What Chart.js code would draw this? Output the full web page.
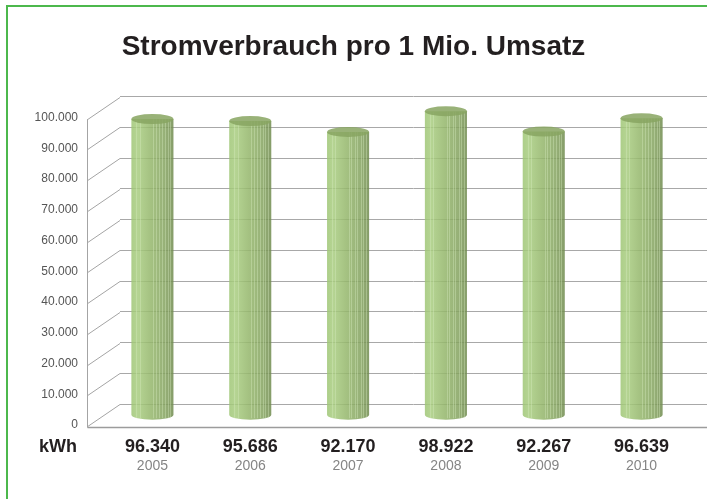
<!DOCTYPE html>
<html>
<head>
<meta charset="utf-8">
<script src="https://cdn.jsdelivr.net/npm/chart.js@4"></script>
<style>
    html, body { margin: 0; padding: 0; background: #fff; }
    .wrap { position: relative; width: 707px; height: 499px; overflow: hidden; }
    .rahmen {
        position: absolute; left: 6px; top: 5px; right: -5px; bottom: -5px;
        border-top: 2px solid #4cb84c; border-left: 2px solid #4cb84c;
        pointer-events: none;
    }
</style>
</head>
<body>
<div class="wrap">
    <canvas id="stromChart" width="707" height="499"></canvas>
    <div class="rahmen"></div>
</div>
<script>
// Daten
const jahre = ['2005', '2006', '2007', '2008', '2009', '2010'];
const verbrauch = [96340, 95686, 92170, 98922, 92267, 96639];
const einheit = 'kWh';

// Versatz für die 3D-Optik (vorne gegenüber Rückwand)
const tiefeX = -33;
const tiefeY = 22.5;

function formatDE(v) {
    return String(v).replace(/\B(?=(\d{3})+(?!\d))/g, '.');
}

// Rückwand-Diagonalen, Boden und Zylinder
const zylinderPlugin = {
    id: 'zylinder',
    beforeDatasetsDraw(chart) {
        const ctx = chart.ctx;
        const area = chart.chartArea;
        const yScale = chart.scales.y;
        ctx.save();
        ctx.strokeStyle = '#a4a4a4';
        ctx.lineWidth = 1;
        yScale.ticks.forEach(t => {
            const y = Math.round(yScale.getPixelForValue(t.value)) + 0.5;
            ctx.beginPath();
            ctx.moveTo(area.left, y);
            ctx.lineTo(area.left + tiefeX, y + tiefeY);
            ctx.stroke();
        });
        // vordere Achse und Bodenkante
        const yTop = Math.round(yScale.getPixelForValue(yScale.max) + tiefeY) + 0.5;
        const yNull = Math.round(yScale.getPixelForValue(0) + tiefeY) + 0.5;
        const xv = Math.round(area.left + tiefeX) + 0.5;
        ctx.beginPath();
        ctx.moveTo(xv, yTop);
        ctx.lineTo(xv, yNull);
        ctx.stroke();
        ctx.strokeStyle = '#9c9c9c';
        ctx.lineWidth = 1.5;
        ctx.beginPath();
        ctx.moveTo(xv, yNull);
        ctx.lineTo(chart.width, yNull);
        ctx.stroke();
        ctx.restore();
    },
    afterDatasetsDraw(chart) {
        const ctx = chart.ctx;
        const meta = chart.getDatasetMeta(0);
        ctx.save();
        ctx.globalAlpha = 0.86;
        meta.data.forEach(bar => {
            const { x, y, base, width } = bar.getProps(['x', 'y', 'base', 'width'], true);
            const cx = x + tiefeX / 2;
            const top = y + tiefeY / 2;
            const bottom = base + tiefeY / 2;
            const rx = width / 2;
            const ry = 5;
            const left = cx - rx;

            const grad = ctx.createLinearGradient(left, 0, left + width, 0);
            grad.addColorStop(0, '#9fc676');
            grad.addColorStop(0.15, '#a9cd81');
            grad.addColorStop(0.45, '#96b86d');
            grad.addColorStop(0.8, '#85a361');
            grad.addColorStop(1, '#718c50');

            ctx.fillStyle = grad;
            ctx.beginPath();
            ctx.moveTo(left, top);
            ctx.lineTo(left, bottom);
            ctx.ellipse(cx, bottom, rx, ry, 0, Math.PI, 0, true);
            ctx.lineTo(left + width, top);
            ctx.closePath();
            ctx.fill();

            // feine Streifen wie im Original
            ctx.strokeStyle = 'rgba(215, 235, 190, 0.45)';
            ctx.lineWidth = 1;
            [0.12, 0.2, 0.52, 0.58, 0.66, 0.72, 0.8, 0.86, 0.92].forEach(p => {
                const sx = Math.round(left + width * p) + 0.5;
                ctx.beginPath();
                ctx.moveTo(sx, top);
                ctx.lineTo(sx, bottom + ry * 0.7);
                ctx.stroke();
            });

            // Deckel
            ctx.fillStyle = '#88a562';
            ctx.beginPath();
            ctx.ellipse(cx, top, rx, ry, 0, 0, Math.PI * 2);
            ctx.fill();
        });
        ctx.restore();
    },
    afterDraw(chart) {
        const ctx = chart.ctx;
        const area = chart.chartArea;
        ctx.save();
        ctx.font = 'bold 18px "Liberation Sans", Arial, sans-serif';
        ctx.fillStyle = '#231f20';
        ctx.textAlign = 'right';
        ctx.textBaseline = 'middle';
        ctx.fillText(einheit, area.left + tiefeX - 10, area.bottom + 43);
        ctx.restore();
    }
};

Chart.defaults.font.family = '"Liberation Sans", Arial, sans-serif';

const ctx = document.getElementById('stromChart');
new Chart(ctx, {
    type: 'bar',
    data: {
        labels: jahre,
        datasets: [{
            label: 'Stromverbrauch',
            data: verbrauch,
            backgroundColor: 'rgba(0,0,0,0)',
            borderWidth: 0,
            categoryPercentage: 1,
            barPercentage: 0.43
        }]
    },
    options: {
        responsive: false,
        animation: false,
        layout: { padding: { left: 0, right: 0, top: 0, bottom: 0 } },
        plugins: {
            legend: { display: false },
            tooltip: { enabled: false },
            title: {
                display: true,
                text: 'Stromverbrauch pro 1 Mio. Umsatz',
                color: '#231f20',
                font: { size: 28, weight: 'bold' },
                padding: { top: 30, bottom: 33 }
            }
        },
        scales: {
            y: {
                min: 0,
                max: 100000,
                border: { display: false },
                grid: { color: '#a8a8a8', drawTicks: false },
                ticks: {
                    stepSize: 10000,
                    padding: 42,
                    labelOffset: 21,
                    color: '#555',
                    font: { size: 12 },
                    callback: v => formatDE(v)
                },
                afterFit(scale) { scale.width = 120; }
            },
            x: {
                weight: 0,
                offset: true,
                border: { display: false },
                grid: { display: false },
                ticks: {
                    padding: 24,
                    labelOffset: tiefeX / 2,
                    color: '#231f20',
                    font: { size: 18, weight: 'bold' },
                    callback: (v, i) => formatDE(verbrauch[i])
                },
                afterFit(scale) {
                    scale.height = 54;
                    scale.paddingLeft = 0;
                    scale.paddingRight = 0;
                }
            },
            xJahr: {
                type: 'category',
                position: 'bottom',
                labels: jahre,
                weight: 1,
                offset: true,
                border: { display: false },
                grid: { display: false },
                ticks: {
                    padding: -8,
                    labelOffset: tiefeX / 2,
                    color: '#858585',
                    font: { size: 14 }
                },
                afterFit(scale) {
                    scale.height = 41;
                    scale.paddingLeft = 0;
                    scale.paddingRight = 0;
                }
            }
        }
    },
    plugins: [zylinderPlugin]
});
</script>
</body>
</html>
